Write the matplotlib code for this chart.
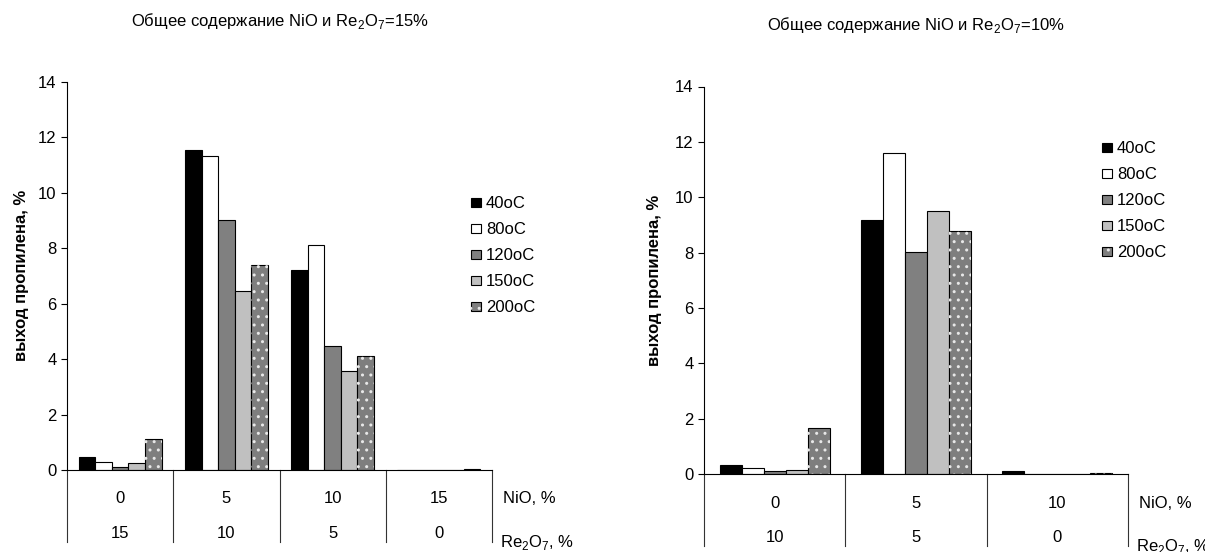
import matplotlib
matplotlib.use('Agg')
import matplotlib.pyplot as plt
import numpy as np

plt.rcParams['font.family'] = ['Liberation Sans', 'DejaVu Sans']
plt.rcParams['mathtext.fontset'] = 'custom'
plt.rcParams['mathtext.rm'] = 'Liberation Sans'
plt.rcParams['hatch.linewidth'] = 1.0

# left chart: total NiO + Re2O7 = 15%
left_nio = ['0', '5', '10', '15']
left_re = ['15', '10', '5', '0']
left_40 = [0.47, 11.55, 7.2, 0.0]
left_80 = [0.29, 11.33, 8.12, 0.0]
left_120 = [0.10, 9.0, 4.46, 0.0]
left_150 = [0.24, 6.45, 3.58, 0.0]
left_200 = [1.13, 7.38, 4.1, 0.05]

# right chart: total NiO + Re2O7 = 10%
right_nio = ['0', '5', '10']
right_re = ['10', '5', '0']
right_40 = [0.34, 9.19, 0.1]
right_80 = [0.2, 11.59, 0.0]
right_120 = [0.1, 8.02, 0.0]
right_150 = [0.14, 9.52, 0.0]
right_200 = [1.65, 8.77, 0.05]

labels = ['40oC', '80oC', '120oC', '150oC', '200oC']
colors = ['black', 'white', '#808080', '#c0c0c0', '#7e7e7e']

RE = r'Re$_\mathregular{2}$O$_\mathregular{7}$'
FS = 12


def draw(ax, nio, re, series, title_xy, title, leg_xy, nio_y, re_y, ylab_x, fig):
    n = len(nio)
    x = np.arange(n)
    w = 0.156
    handles = []
    for i, vals in enumerate(series):
        pos = x + (i - 2) * w
        b = ax.bar(pos, vals, w, color=colors[i], edgecolor='black', linewidth=0.8)
        if i == 4:
            h = ax.bar(pos, vals, w, fill=False, hatch='..', edgecolor='#e8e8e8', linewidth=0)
            handles.append((b, h))
        else:
            handles.append(b)
    ax.set_xlim(-0.5, n - 0.5)
    ax.set_ylim(0, 14)
    ax.set_yticks(range(0, 15, 2))
    ax.tick_params(axis='y', direction='out', length=4, width=0.8, labelsize=FS)
    ax.set_xticks([])
    for s in ['top', 'right']:
        ax.spines[s].set_visible(False)
    ax.spines['left'].set_linewidth(0.8)
    ax.spines['bottom'].set_linewidth(0.8)
    ax.set_ylabel('выход пропилена, %', fontsize=FS, fontweight='bold')
    ax.yaxis.set_label_coords(ylab_x, 0.5)

    # table under the axis
    tr = ax.get_xaxis_transform()
    for k in range(n + 1):
        ax.plot([k - 0.5, k - 0.5], [0, -0.185], transform=tr, color='#333333',
                linewidth=0.8, clip_on=False)
    for k in range(n):
        ax.text(k, nio_y, nio[k], transform=tr, ha='center', va='center', fontsize=FS)
        ax.text(k, re_y, re[k], transform=tr, ha='center', va='center', fontsize=FS)
    ax.text(1.027, nio_y, 'NiO, %', transform=ax.transAxes, ha='left', va='center', fontsize=FS)
    ax.text(1.018, re_y - 0.023, RE + ', %', transform=ax.transAxes, ha='left', va='center', fontsize=FS)

    fig.text(title_xy[0], title_xy[1], title, ha='center', va='center', fontsize=FS)
    ax.legend(handles, labels, loc='upper left', bbox_to_anchor=leg_xy,
              bbox_transform=fig.transFigure, frameon=False, fontsize=FS,
              handlelength=0.6, handleheight=0.45, handletextpad=0.3,
              labelspacing=0.66, borderpad=0, borderaxespad=0)


fig = plt.figure(figsize=(12.05, 5.52), dpi=100)
ax1 = fig.add_axes([67 / 1205, 1 - 470 / 552, 425 / 1205, 388.3 / 552])
ax2 = fig.add_axes([704 / 1205, 1 - 474 / 552, 424 / 1205, 387.5 / 552])

draw(ax1, left_nio, left_re, [left_40, left_80, left_120, left_150, left_200],
     (280 / 1205, 1 - 21 / 552), 'Общее содержание NiO и ' + RE + '=15%',
     (471 / 1205, 1 - 196 / 552), -0.073, -0.163, -0.09, fig)
draw(ax2, right_nio, right_re, [right_40, right_80, right_120, right_150, right_200],
     (916 / 1205, 1 - 25 / 552), 'Общее содержание NiO и ' + RE + '=10%',
     (1102 / 1205, 1 - 141 / 552), -0.075, -0.165, -0.098, fig)

fig.savefig('out.png', dpi=100)
